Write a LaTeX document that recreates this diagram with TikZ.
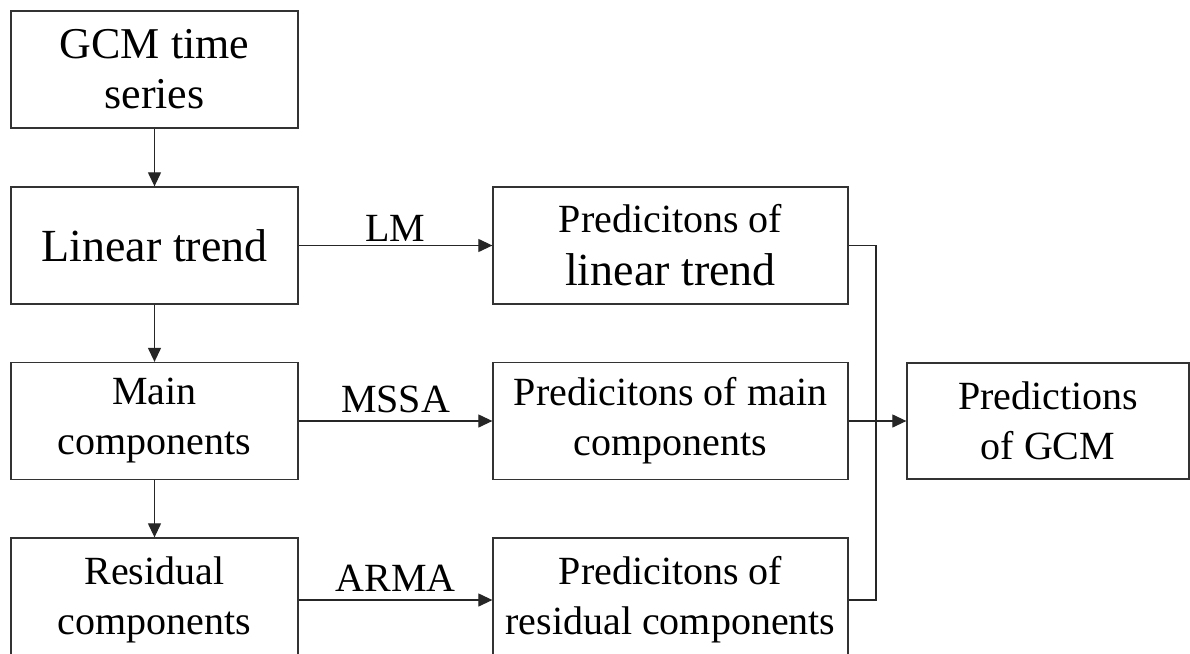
\documentclass[tikz,border=0pt]{standalone}
\usepackage{fontspec}
\setmainfont{Liberation Serif}
\usetikzlibrary{arrows.meta}
\begin{document}
\begin{tikzpicture}[x=1pt,y=-1pt,
  box/.style={draw=black!80, line width=1.3pt, rectangle, align=center, inner sep=0pt,
    font=\fontsize{40}{50}\selectfont},
  lbox/.style={box, minimum width=287pt, minimum height=117pt},
  pbox/.style={box, minimum width=355pt, minimum height=117pt},
  conn/.style={draw=black!85, line width=1.2pt},
  arr/.style={conn, -{Triangle[length=14pt,width=13pt]}},
  lab/.style={font=\fontsize{40}{48}\selectfont, inner sep=0pt}
]
\useasboundingbox (0,0) rectangle (1190,653);
\fill[white] (0,0) rectangle (1190,653);

\node[lbox, font=\fontsize{44}{50}\selectfont] (gcm) at (154.5,69.5) {GCM time\\series};
\node[lbox, font=\fontsize{46}{52}\selectfont] (lin) at (154.5,245.5) {Linear trend};
\node[lbox] (main) at (154.5,421) {Main\\components};
\node[lbox, minimum height=124pt] (res) at (154.5,600) {Residual\\components};

\node[pbox] (plin) at (670.5,245.5) {Predicitons of\\[3pt]{\fontsize{46}{52}\selectfont linear trend}};
\node[pbox] (pmain) at (670.5,421) {Predicitons of main\\components};
\node[pbox, minimum height=124pt] (pres) at (670.5,600) {Predicitons of\\residual components};

\node[box, minimum width=282pt, minimum height=116pt] (pgcm) at (1048,421) {Predictions\\of GCM};

\draw[arr] (gcm) -- (lin);
\draw[arr] (lin) -- (main);
\draw[arr] (main) -- (res);

\draw[arr] (lin) -- node[lab, above=3pt] {LM} (plin);
\draw[arr] (main) -- node[lab, above=8pt] {MSSA} (pmain);
\draw[arr] (res) -- node[lab, above=8pt] {ARMA} (pres);

\coordinate (j) at (876,421);
\draw[conn] (plin.east) -| (j) |- (pres.east);
\draw[arr] (pmain.east) -- (pgcm.west);
\end{tikzpicture}
\end{document}
